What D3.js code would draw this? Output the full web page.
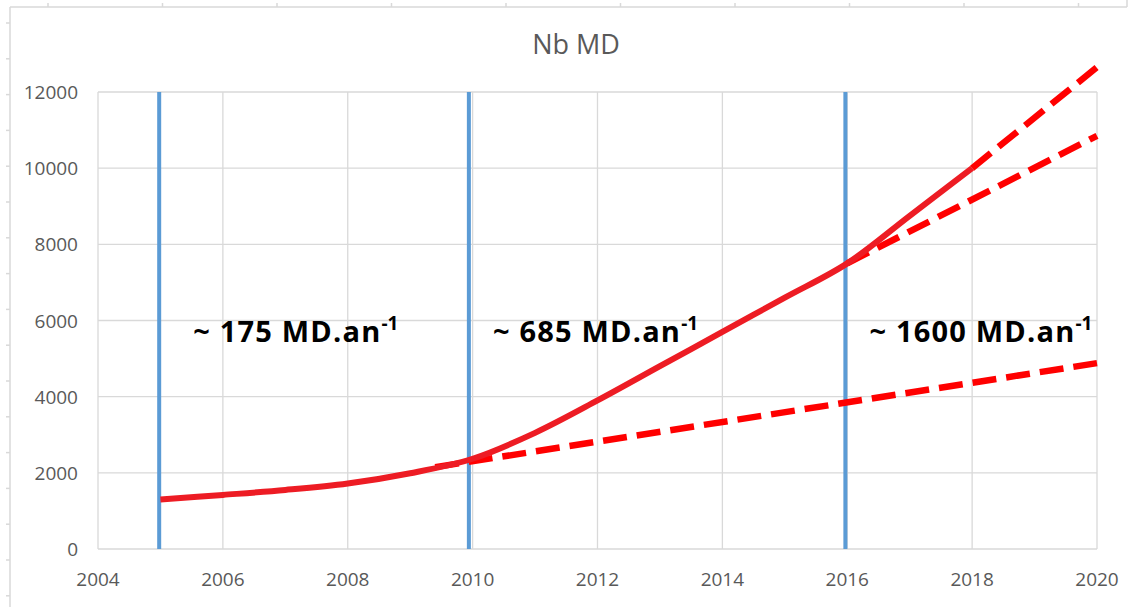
<!DOCTYPE html>
<html lang="fr">
<head>
<meta charset="UTF-8">
<title>Nb MD</title>
<script src="https://cdn.jsdelivr.net/npm/d3@7"></script>
<style>
*{margin:0; padding:0;}
body{background:#fff;}
.grid line{stroke:#d9d9d9; stroke-width:1.3;}
.tick-label{font-family:"Open Sans", sans-serif; font-size:19px; fill:#595959;}
.rate{font-family:"Open Sans", sans-serif; font-weight:bold; fill:#000;}
</style>
</head>
<body>
<script>
// données
var years = [2005, 2006, 2007, 2008, 2009, 2010, 2011, 2012, 2013, 2014, 2015, 2016, 2017, 2018];
var nbMD  = [1300, 1420, 1550, 1720, 1990, 2370, 3050, 3900, 4800, 5700, 6600, 7500, 8750, 10000];

// tendances (pointillés)
var trendLowX  = [2009.4, 2020];
var trendLowY  = [2150, 4880];
var trendMidX  = [2016, 2020];
var trendMidY  = [7500, 10850];
var trendHighX = [2018, 2020];
var trendHighY = [10000, 12650];

// périodes
var periods = [2004.98, 2009.94, 2015.97];
var rates = ["~ 175 MD.an", "~ 685 MD.an", "~ 1600 MD.an"];

var xTicks = [2004, 2006, 2008, 2010, 2012, 2014, 2016, 2018, 2020];
var yTicks = [0, 2000, 4000, 6000, 8000, 10000, 12000];

var width = 1134, height = 607;
var svg = d3.select("body").append("svg")
	.attr("width", width)
	.attr("height", height);

var x = d3.scaleLinear().domain([2004, 2020]).range([98, 1097]);
var y = d3.scaleLinear().domain([0, 12000]).range([549, 92]);

// cadre extérieur avec petites graduations
var frame = svg.append("g").attr("stroke", "#d9d9d9").attr("stroke-width", 1.5);
frame.append("line").attr("x1", 10).attr("x2", 1127).attr("y1", 7).attr("y2", 7);
frame.append("line").attr("x1", 10).attr("x2", 10).attr("y1", 7).attr("y2", height);
frame.append("line").attr("x1", 1127).attr("x2", 1127).attr("y1", 0).attr("y2", 7);
d3.range(48, 1127, 114.5).forEach(function(t){
	frame.append("line").attr("x1", t).attr("x2", t).attr("y1", 3).attr("y2", 7);
});
d3.range(23, height, 35.8).forEach(function(t){
	frame.append("line").attr("x1", 6).attr("x2", 10).attr("y1", t).attr("y2", t);
});

// titre
svg.append("text")
	.attr("x", 576).attr("y", 54)
	.attr("text-anchor", "middle")
	.style("font-family", "'Open Sans', sans-serif")
	.style("font-size", "27px")
	.style("fill", "#595959")
	.text("Nb MD");

// grille
var grid = svg.append("g").classed("grid", true);
grid.selectAll("line.h").data(yTicks).enter().append("line")
	.attr("class", "h")
	.attr("x1", x(2004)).attr("x2", x(2020))
	.attr("y1", function(d){ return y(d); })
	.attr("y2", function(d){ return y(d); });
grid.selectAll("line.v").data(xTicks).enter().append("line")
	.attr("class", "v")
	.attr("y1", y(0)).attr("y2", y(12000))
	.attr("x1", function(d){ return x(d); })
	.attr("x2", function(d){ return x(d); });

// étiquettes des axes
svg.append("g").selectAll("text").data(yTicks).enter().append("text")
	.attr("class", "tick-label")
	.attr("x", 78)
	.attr("y", function(d){ return y(d) + 7; })
	.attr("text-anchor", "end")
	.text(function(d){ return d; });
svg.append("g").selectAll("text").data(xTicks).enter().append("text")
	.attr("class", "tick-label")
	.attr("x", function(d){ return x(d); })
	.attr("y", 586)
	.attr("text-anchor", "middle")
	.text(function(d){ return d; });

// barres verticales des périodes
svg.append("g").selectAll("line").data(periods).enter().append("line")
	.attr("x1", function(d){ return x(d); })
	.attr("x2", function(d){ return x(d); })
	.attr("y1", y(0)).attr("y2", y(12000))
	.attr("stroke", "#5b9bd5")
	.attr("stroke-width", 4);

// tendances en pointillés
var line = d3.line()
	.x(function(d){ return x(d[0]); })
	.y(function(d){ return y(d[1]); });
[[trendLowX, trendLowY], [trendMidX, trendMidY], [trendHighX, trendHighY]].forEach(function(t){
	svg.append("path")
		.datum(d3.zip(t[0], t[1]))
		.attr("d", line)
		.attr("fill", "none")
		.attr("stroke", "#ff0000")
		.attr("stroke-width", 6.5)
		.attr("stroke-dasharray", "24 10");
});

// courbe principale
svg.append("path")
	.datum(d3.zip(years, nbMD))
	.attr("d", line.curve(d3.curveCatmullRom))
	.attr("fill", "none")
	.attr("stroke", "#ed1c24")
	.attr("stroke-width", 6);

// annotations de pente
var offsets = [34, 24, 24];
var ann = svg.append("g").selectAll("text").data(periods).enter().append("text")
	.attr("class", "rate")
	.attr("x", function(d, i){ return x(d) + offsets[i]; })
	.attr("y", y(6000) + 21)
	.style("font-size", "29px")
	.style("letter-spacing", "1.2px");
ann.append("tspan").text(function(d, i){ return rates[i]; });
ann.append("tspan")
	.attr("dy", -12)
	.style("font-size", "19px")
	.style("letter-spacing", "0px")
	.text("-1");
</script>
</body>
</html>
